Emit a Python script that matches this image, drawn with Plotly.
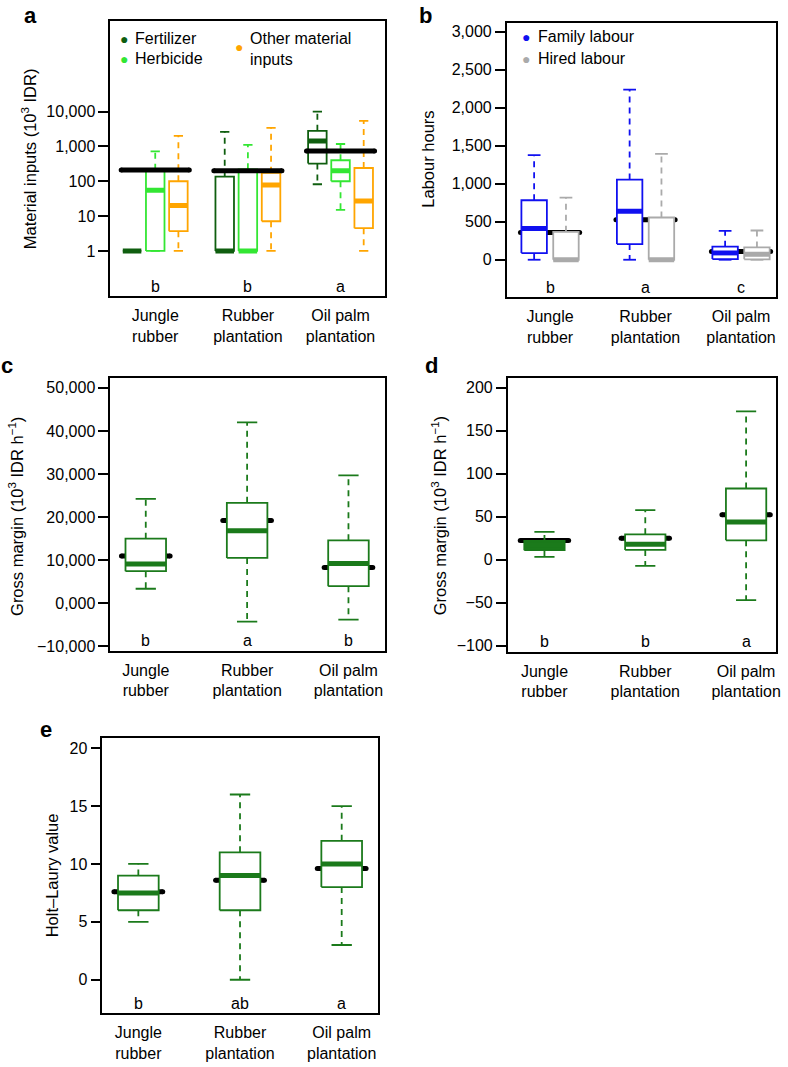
import plotly.graph_objects as go

W, H = 788, 1067
FONT = "Liberation Sans, Arial, Helvetica, sans-serif"

# ---------------- data ----------------
categories = ["Jungle<br>rubber", "Rubber<br>plantation", "Oil palm<br>plantation"]

# Panel a: material inputs (10^3 IDR), log scale
a_series = ["Fertilizer", "Herbicide", "Other material<br>inputs"]
a_fert_low = [1, 1, 82]
a_fert_q1 = [1, 1, 320]
a_fert_med = [1, 1, 1420]
a_fert_q3 = [1, 135, 2800]
a_fert_high = [1, 2600, 10000]
a_herb_low = [1, 1, 15]
a_herb_q1 = [1, 1, 100]
a_herb_med = [55, 1, 200]
a_herb_q3 = [215, 220, 400]
a_herb_high = [720, 1100, 1170]
a_other_low = [1, 1, 1]
a_other_q1 = [3.7, 7.1, 4.5]
a_other_med = [20, 78, 27]
a_other_q3 = [100, 175, 240]
a_other_high = [2000, 3400, 5400]
a_total_mean = [210, 200, 740]
a_letters = ["b", "b", "a"]
a_ticks = [1, 10, 100, 1000, 10000]
a_ticktext = ["1", "10", "100", "1,000", "10,000"]

# Panel b: labour hours
b_series = ["Family labour", "Hired labour"]
b_fam_low = [0, 0, 0]
b_fam_q1 = [88, 206, 9]
b_fam_med = [410, 639, 90]
b_fam_q3 = [783, 1055, 172]
b_fam_high = [1378, 2239, 381]
b_hir_low = [0, 0, 0]
b_hir_q1 = [0, 0, 5]
b_hir_med = [0, 0, 72]
b_hir_q3 = [368, 556, 162]
b_hir_high = [818, 1395, 385]
b_total_mean = [359, 525, 110]
b_letters = ["b", "a", "c"]
b_ticks = [0, 500, 1000, 1500, 2000, 2500, 3000]
b_ticktext = ["0", "500", "1,000", "1,500", "2,000", "2,500", "3,000"]

# Panel c: gross margin (10^3 IDR h^-1)
c_low = [3350, -4300, -3800]
c_q1 = [7430, 10500, 3950]
c_med = [9120, 16800, 9200]
c_q3 = [14980, 23300, 14600]
c_high = [24200, 42000, 29700]
c_mean = [10970, 19200, 8300]
c_letters = ["b", "a", "b"]
c_ticks = [-10000, 0, 10000, 20000, 30000, 40000, 50000]
c_ticktext = ["\u221210,000", "0,000", "10,000", "20,000", "30,000", "40,000", "50,000"]

# Panel d: gross margin (10^3 IDR h^-1)
d_low = [3.4, -7.1, -46.8]
d_q1 = [11.1, 11.4, 22.6]
d_med = [17, 18, 43.9]
d_q3 = [21.9, 29.6, 82.8]
d_high = [32.3, 57.7, 172.3]
d_mean = [22.3, 25, 52.4]
d_letters = ["b", "b", "a"]
d_ticks = [-100, -50, 0, 50, 100, 150, 200]
d_ticktext = ["\u2212100", "\u221250", "0", "50", "100", "150", "200"]

# Panel e: Holt-Laury value
e_low = [5, 0, 3]
e_q1 = [6, 6, 8]
e_med = [7.5, 9, 10]
e_q3 = [9, 11, 12]
e_high = [10, 16, 15]
e_mean = [7.6, 8.6, 9.6]
e_letters = ["b", "ab", "a"]
e_ticks = [0, 5, 10, 15, 20]
e_ticktext = ["0", "5", "10", "15", "20"]

# ---------------- styles ----------------
C_FERT = "#0f5e0f"
C_HERB = "#33e633"
C_OTHER = "#ffa500"
C_FAM = "#1010f0"
C_HIR = "#aaaaaa"
C_GM = "#1b7a1b"
FS = 16

fig = go.Figure()


def add_box(xa, ya, x, lo, q1, med, q3, hi, color, w, fill="white"):
    common = dict(xaxis=xa, yaxis=ya, showlegend=False, hoverinfo="skip")
    c = w / 4
    h = w / 2
    fig.add_trace(go.Scatter(x=[x, x, None, x, x], y=[q3, hi, None, q1, lo], mode="lines",
                             line=dict(color=color, width=1.8, dash="6px,5px"), **common))
    fig.add_trace(go.Scatter(x=[x - c, x + c, None, x - c, x + c], y=[hi, hi, None, lo, lo], mode="lines",
                             line=dict(color=color, width=1.8), **common))
    fig.add_trace(go.Scatter(x=[x - h, x + h, x + h, x - h, x - h], y=[q1, q1, q3, q3, q1], mode="lines",
                             fill="toself", fillcolor=fill, line=dict(color=color, width=1.8), **common))
    fig.add_trace(go.Scatter(x=[x - h, x + h], y=[med, med], mode="lines",
                             line=dict(color=color, width=5), **common))


def add_mean(xa, ya, x0, x1, y):
    fig.add_trace(go.Scatter(x=[x0, x1], y=[y, y], mode="lines+markers", xaxis=xa, yaxis=ya,
                             line=dict(color="black", width=5), marker=dict(color="black", size=5),
                             showlegend=False, hoverinfo="skip"))


# Panel a (x1/y1): 3 boxes per group, positions 1-3, 5-7, 9-11
a_sets = [
    (a_fert_low, a_fert_q1, a_fert_med, a_fert_q3, a_fert_high, C_FERT),
    (a_herb_low, a_herb_q1, a_herb_med, a_herb_q3, a_herb_high, C_HERB),
    (a_other_low, a_other_q1, a_other_med, a_other_q3, a_other_high, C_OTHER),
]
a_centers = []
for g in range(3):
    base = 4 * g + 1
    a_centers.append(base + 1)
    for k, (lo, q1, md, q3, hi, col) in enumerate(a_sets):
        add_box("x", "y", base + k, lo[g], q1[g], md[g], q3[g], hi[g], col, 0.8)
for g in range(3):
    base = 4 * g + 1
    add_mean("x", "y", base - 0.47, base + 2.47, a_total_mean[g])

# Panel b (x2/y2): 2 boxes per group, positions 1-2, 4-5, 7-8
b_sets = [
    (b_fam_low, b_fam_q1, b_fam_med, b_fam_q3, b_fam_high, C_FAM),
    (b_hir_low, b_hir_q1, b_hir_med, b_hir_q3, b_hir_high, C_HIR),
]
b_centers = []
for g in range(3):
    base = 3 * g + 1
    b_centers.append(base + 0.5)
    add_mean("x2", "y2", base - 0.43, base + 1.43, b_total_mean[g])
    for k, (lo, q1, md, q3, hi, col) in enumerate(b_sets):
        add_box("x2", "y2", base + k, lo[g], q1[g], md[g], q3[g], hi[g], col, 0.8)

# Panels c, d, e
d_fill = [C_GM, "white", "white"]
for (xa, ya, lo, q1, md, q3, hi, mn, fills) in [
    ("x3", "y3", c_low, c_q1, c_med, c_q3, c_high, c_mean, ["white"] * 3),
    ("x4", "y4", d_low, d_q1, d_med, d_q3, d_high, d_mean, d_fill),
    ("x5", "y5", e_low, e_q1, e_med, e_q3, e_high, e_mean, ["white"] * 3),
]:
    for g in range(3):
        x = g + 1
        add_mean(xa, ya, x - 0.24, x + 0.24, mn[g])
        add_box(xa, ya, x, lo[g], q1[g], md[g], q3[g], hi[g], C_GM, 0.4, fill=fills[g])


# ---------------- layout ----------------
def dom_x(l, r):
    return [l / W, r / W]


def dom_y(t, b):
    return [1 - b / H, 1 - t / H]


tickfont = dict(family=FONT, size=FS, color="black")


def xax(domain, anchor, rng, tickvals):
    return dict(domain=domain, anchor=anchor, range=rng, showline=True, mirror=True,
                linecolor="black", linewidth=1.6, ticks="", showgrid=False, zeroline=False,
                tickvals=tickvals, ticktext=categories, tickfont=tickfont, ticklabelstandoff=4)


def yax(domain, anchor, rng, tickvals, ticktext, **kw):
    return dict(domain=domain, anchor=anchor, range=rng, showline=True, mirror=True,
                linecolor="black", linewidth=1.6, ticks="outside", ticklen=10, tickwidth=1.5,
                tickcolor="black", showgrid=False, zeroline=False, tickvals=tickvals,
                ticktext=ticktext, tickfont=tickfont, **kw)


annotations = []


def ann(text, x, y, size=FS, bold=False, color="black", xanchor="center", angle=0, align="center"):
    annotations.append(dict(text=("<b>%s</b>" % text) if bold else text, x=x / W, y=1 - y / H,
                            xref="paper", yref="paper", showarrow=False, xanchor=xanchor,
                            yanchor="middle", textangle=angle, align=align,
                            font=dict(family=FONT, size=size, color=color)))


def letters(xa, ya, centers, labels):
    for cx, lab in zip(centers, labels):
        annotations.append(dict(text=lab, x=cx, y=0.035, xref=xa, yref=ya + " domain",
                                showarrow=False, xanchor="center", yanchor="middle",
                                font=dict(family=FONT, size=FS, color="black")))


letters("x", "y", a_centers, a_letters)
letters("x2", "y2", b_centers, b_letters)
letters("x3", "y3", [1, 2, 3], c_letters)
letters("x4", "y4", [1, 2, 3], d_letters)
letters("x5", "y5", [1, 2, 3], e_letters)

# panel labels
ann("a", 31, 16, size=22, bold=True)
ann("b", 428, 16, size=22, bold=True)
ann("c", 7, 367, size=22, bold=True)
ann("d", 434, 367, size=22, bold=True)
ann("e", 46, 732, size=22, bold=True)

# axis titles
ann("Material inputs (10<sup>3</sup> IDR)", 30, 159, size=16.5, angle=-90)
ann("Labour hours", 431, 160, size=16.5, angle=-90)
ann("Gross margin (10<sup>3</sup> IDR h<sup>\u22121</sup>)", 16, 518, size=16.5, angle=-90)
ann("Gross margin (10<sup>3</sup> IDR h<sup>\u22121</sup>)", 442, 518, size=16.5, angle=-90)
ann("Holt\u2013Laury value", 52, 879, size=16.5, angle=-90)

# legends (dots + labels)
ann("\u25cf", 125, 39, size=14, color=C_FERT)
ann(a_series[0], 134, 39, xanchor="left")
ann("\u25cf", 125, 59, size=14, color=C_HERB)
ann(a_series[1], 134, 59, xanchor="left")
ann("\u25cf", 241, 47, size=14, color=C_OTHER)
ann(a_series[2], 250, 49, xanchor="left", align="left")
ann("\u25cf", 529, 37, size=14, color=C_FAM)
ann(b_series[0], 539, 37, xanchor="left")
ann("\u25cf", 529, 59, size=14, color=C_HIR)
ann(b_series[1], 539, 59, xanchor="left")

fig.update_layout(
    width=W, height=H, margin=dict(l=0, r=0, t=0, b=0),
    paper_bgcolor="white", plot_bgcolor="white", showlegend=False,
    font=dict(family=FONT, size=FS, color="black"),
    xaxis=xax(dom_x(111, 387), "y", [0.06, 11.9], a_centers),
    yaxis=yax(dom_y(21, 297), "x", [-1.29, 6.6], a_ticks, a_ticktext, type="log"),
    xaxis2=xax(dom_x(510, 781), "y2", [0.14, 8.6], b_centers),
    yaxis2=yax(dom_y(23, 298), "x2", [-489, 3118], b_ticks, b_ticktext),
    xaxis3=xax(dom_x(111, 387), "y3", [0.65, 3.356], [1, 2, 3]),
    yaxis3=yax(dom_y(379, 653), "x3", [-10995, 52383], c_ticks, c_ticktext),
    xaxis4=xax(dom_x(511, 781), "y4", [0.636, 3.297], [1, 2, 3]),
    yaxis4=yax(dom_y(379, 654), "x4", [-106.6, 211.6], d_ticks, d_ticktext),
    xaxis5=xax(dom_x(103, 380), "y5", [0.646, 3.353], [1, 2, 3]),
    yaxis5=yax(dom_y(741, 1017), "x5", [-2.89, 20.86], e_ticks, e_ticktext),
    annotations=annotations,
)

fig.write_html(
    "out.html",
    config={"displayModeBar": False},
    post_script="document.body.style.margin='0px';document.body.style.overflow='hidden';",
)
